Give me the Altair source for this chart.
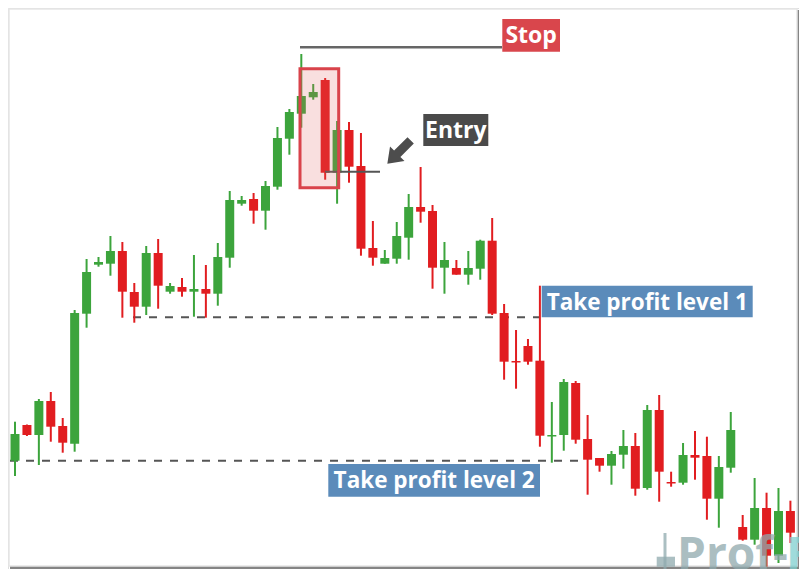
import altair as alt
import pandas as pd

# ---- candle data (price units) ----
opens = [139.3, 175, 165, 199, 174, 156.3, 286.3, 335.3, 336.3, 349, 308, 293.3, 347, 308.3, 313, 308.3,
         311, 306.3, 342.3, 396.3, 401, 389.3, 413.3, 461.3, 486.3, 502.7, 520, 427.3, 470, 434, 352, 336.3,
         341.3, 362.3, 393, 389, 332.3, 332, 325.3, 331.3, 359.3, 287, 239, 254, 239.3, 163.5, 165, 217,
         161, 142, 134.3, 145.3, 154, 112, 190, 118, 117.3, 145, 144, 101.3, 132.3, 73, 60.3, 92, 44.3, 89]
highs = [178.3, 175.5, 201, 208, 182, 290, 341, 343, 364, 358, 317, 354, 361, 317, 322, 345,
         335, 357, 409, 404, 407, 419, 473, 491, 546, 516, 522, 479, 478, 467, 379, 350,
         378, 406, 433, 395, 358, 340, 349, 360.3, 382, 296, 270, 261, 314.3, 198, 221, 219,
         185, 142, 149, 170, 167, 195, 205, 128.3, 157, 169, 163.3, 144, 188, 85, 122, 107.3, 112, 99.3]
lows = [124, 164, 135, 158.3, 147.3, 148.3, 272.3, 333.3, 324.3, 282.3, 277.3, 285, 291.3, 306.3, 303.3, 283.3,
        282.3, 294.3, 332.3, 394.3, 376.3, 370.3, 410.3, 445.3, 472.3, 500.3, 420.3, 396.3, 417.3, 344.3, 334.3, 336.3,
        336.3, 340.3, 377.3, 311.3, 306.3, 325.3, 315.3, 320.3, 285, 220.3, 211.3, 235.3, 153.3, 137.3, 149.3, 156.3,
        105.3, 128.3, 115.3, 131.3, 104.3, 110.3, 98.3, 113.3, 115.3, 120.3, 80.3, 72.3, 127.3, 59.3, 55.3, 33.3, 37, 57]
closes = [166, 165, 199, 173.3, 157.3, 287, 328, 338, 349, 308.3, 293.3, 347, 314.3, 314, 308.3, 311,
          306.3, 343, 400, 400, 389.3, 414, 462, 488, 504, 508, 427.3, 470, 433.3, 351.3, 342.3, 342,
          364, 393, 388.3, 332.3, 340, 325.3, 332, 359.3, 286.3, 238.3, 237.5, 238.3, 164.3, 165, 218, 160.3,
          140.3, 134.3, 146, 154, 111.3, 190, 128.3, 116.5, 145, 142.3, 101.3, 133, 170, 60.3, 92, 44.3, 89, 67.3]

stop_level = [552.7]
entry_level = [428.3]
tp1_level = [282.7]
tp2_level = [139.3]

df = pd.DataFrame({"i": list(range(len(opens))), "open": opens, "high": highs,
                   "low": lows, "close": closes})
df["dir"] = ["up" if c >= o else "down" for o, c in zip(df["open"], df["close"])]

W, H = 791, 561
xs = alt.Scale(domain=[-0.587, 65.72], nice=False, zero=False, padding=0)
ys = alt.Scale(domain=[31, 592], nice=False, zero=False, padding=0)
one = pd.DataFrame({"a": [0]})

def vrect(x1, x2, y1, y2, **kw):
    return alt.Chart(one).mark_rect(**kw).encode(
        x=alt.value(x1), x2=alt.value(x2), y=alt.value(y1), y2=alt.value(y2))

# frame with shadow
sh1 = vrect(4, 795, 4, 565, color="#e2e2e2")
sh2 = vrect(3, 793, 3, 563, color="#b5b5b5")
sh3 = vrect(2, 791.5, 2, 561.5, color="#858585")
panel = vrect(1, 789, 1, 558, fill="white", stroke="#e6e6e6", strokeWidth=1.5)

def hline(level, x1, x2, **kw):
    return alt.Chart(pd.DataFrame({"lv": level})).mark_rule(**kw).encode(
        y=alt.Y("lv:Q", scale=ys, axis=None), x=alt.value(x1), x2=alt.value(x2))

tp1 = hline(tp1_level, 125, 532, color="#555555", strokeWidth=2, strokeDash=[8, 8])
tp2 = hline(tp2_level, 2, 578, color="#555555", strokeWidth=2, strokeDash=[8, 8])
stopl = hline(stop_level, 292, 494, color="#666666", strokeWidth=2.5)

color = alt.Color("dir:N", scale=alt.Scale(domain=["up", "down"], range=["#3ca43c", "#e11d20"]), legend=None)
base = alt.Chart(df)
wicks = base.mark_rule(strokeWidth=2).encode(
    x=alt.X("i:Q", scale=xs, axis=None), y=alt.Y("low:Q", scale=ys, axis=None), y2="high:Q", color=color)
bodies = base.mark_bar(size=9).encode(
    x=alt.X("i:Q", scale=xs, axis=None), y=alt.Y("open:Q", scale=ys, axis=None), y2="close:Q", color=color)

entryl = hline(entry_level, 317, 372, color="#555555", strokeWidth=2)

hbox = vrect(292, 330.7, 60.7, 179.7, fill="#e06060", fillOpacity=0.2, stroke="#d9434b", strokeWidth=3)

arrow = alt.Chart(one).mark_point(
    shape="M0,-1 L0.62,-0.15 L0.27,-0.15 L0.27,1 L-0.27,1 L-0.27,-0.15 L-0.62,-0.15 Z",
    filled=True, color="#4d4d4d", opacity=1, size=1089, angle=225, strokeWidth=0
).encode(x=alt.value(391), y=alt.value(144))

def label(txt, x1, x2, y1, y2, fill, size):
    r = vrect(x1, x2, y1, y2, color=fill)
    t = alt.Chart(one).mark_text(text=txt, color="white", font="Open Sans", fontWeight="bold",
                                 fontSize=size, align="center", baseline="middle").encode(
        x=alt.value((x1 + x2) / 2), y=alt.value((y1 + y2) / 2 + 1))
    return r + t

stop_lab = label("Stop", 494.3, 552, 11, 43.7, "#d9464c", 23)
entry_lab = label("Entry", 415.3, 480.3, 106, 138, "#4a4a4a", 23)
tp1_lab = label("Take profit level 1", 533.7, 744.7, 277.7, 309.3, "#5b8bba", 22.5)
tp2_lab = label("Take profit level 2", 320.3, 532, 456, 488.7, "#5b8bba", 22.5)

# watermark
wm_icon_w = alt.Chart(one).mark_rule(color="#8fa9ad", strokeWidth=3, opacity=0.75).encode(
    x=alt.value(657), y=alt.value(525), y2=alt.value(569))
wm_icon_b = vrect(648.7, 667, 548.7, 558.7, color="#8fa9ad", opacity=0.75)
wm1 = alt.Chart(one).mark_text(text="Prof-", color="#8fa9ad", opacity=0.75, font="Open Sans",
                               fontWeight="bold", fontSize=46, align="left", baseline="alphabetic").encode(
    x=alt.value(669), y=alt.value(562))
wm2 = alt.Chart(one).mark_text(text="FX", color="#7fcfcf", opacity=0.75, font="Open Sans",
                               fontWeight="bold", fontSize=46, align="left", baseline="alphabetic").encode(
    x=alt.value(778), y=alt.value(562))

chart = alt.layer(
    sh1, sh2, sh3, panel, tp1, tp2, stopl, wicks, bodies, entryl, hbox, arrow,
    stop_lab, entry_lab, tp1_lab, tp2_lab, wm_icon_w, wm_icon_b, wm1, wm2
).properties(width=W, height=H, padding=0, autosize=alt.AutoSizeParams(type="none")
).configure_view(stroke=None).configure(background="white")

chart.save("out.html", embed_options={"renderer": "svg", "actions": False})
